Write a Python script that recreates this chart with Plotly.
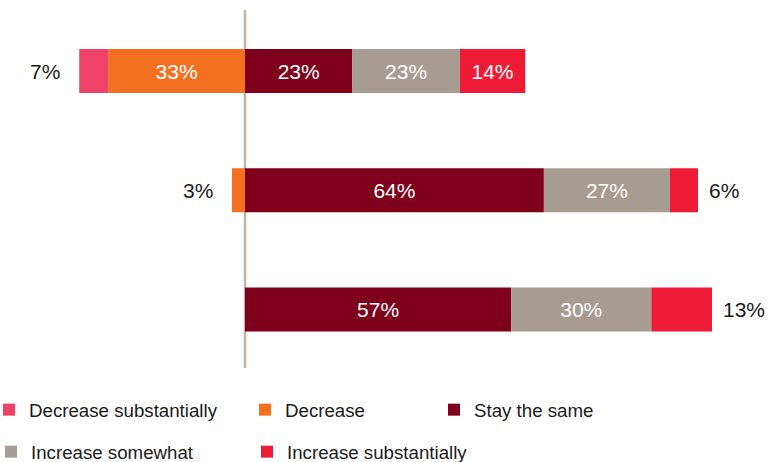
import plotly.graph_objects as go

# ---- data ----
rows = [0, 1, 2]
series_names = ["Decrease substantially", "Decrease", "Stay the same",
                "Increase somewhat", "Increase substantially"]
series_colors = ["#EF4268", "#F37021", "#7F001A", "#A79C92", "#EE1B36"]

# bar lengths (percent)
dec_sub = [6.2, 0, 0]
decrease = [29.3, 2.8, 0]
stay = [23, 64, 57]
inc_some = [23, 27, 30]
inc_sub = [14, 6, 13]

# printed labels
dec_sub_lbl = ["7%", "", ""]
decrease_lbl = ["33%", "3%", ""]
stay_lbl = ["23%", "64%", "57%"]
inc_some_lbl = ["23%", "27%", "30%"]
inc_sub_lbl = ["14%", "6%", "13%"]

# which labels sit inside the segment (others are drawn outside the bar)
dec_sub_in = [False, False, False]
decrease_in = [True, False, False]
inc_sub_in = [True, False, False]

FONT = "Liberation Sans, Arial, Helvetica, sans-serif"
W, H = 772, 462
BAR_W = 0.369

fig = go.Figure()


def inside(lbls, flags=None):
    if flags is None:
        return lbls
    return [l if f else "" for l, f in zip(lbls, flags)]


traces = [
    ("Decrease substantially", [-v for v in dec_sub], inside(dec_sub_lbl, dec_sub_in), "legend"),
    ("Decrease", [-v for v in decrease], inside(decrease_lbl, decrease_in), "legend2"),
    ("Stay the same", stay, inside(stay_lbl), "legend3"),
    ("Increase somewhat", inc_some, inside(inc_some_lbl), "legend4"),
    ("Increase substantially", inc_sub, inside(inc_sub_lbl, inc_sub_in), "legend5"),
]
# negative stacks outward in trace order: put "Decrease" first so it touches zero
order = [1, 0, 2, 3, 4]
for i in order:
    name, vals, txt, lg = traces[i]
    fig.add_trace(go.Bar(
        y=rows, x=vals, orientation="h", name=name,
        marker=dict(color=series_colors[series_names.index(name)], line=dict(width=0)),
        width=BAR_W, text=txt, textposition="inside", insidetextanchor="middle",
        textfont=dict(color="white", size=21, family=FONT),
        hoverinfo="name+x", legend=lg, showlegend=True,
    ))

annotations = []
# left outside labels
for r in rows:
    left_total = dec_sub[r] + decrease[r]
    lbl = ""
    if dec_sub_lbl[r] and not dec_sub_in[r]:
        lbl = dec_sub_lbl[r]
    elif decrease_lbl[r] and not decrease_in[r]:
        lbl = decrease_lbl[r]
    if lbl:
        annotations.append(dict(x=-left_total, y=r, xref="x", yref="y", text=lbl,
                                showarrow=False, xanchor="right", xshift=-17,
                                font=dict(size=21, color="#1a1a1a", family=FONT)))
# right outside labels
for r in rows:
    if inc_sub_lbl[r] and not inc_sub_in[r]:
        right_total = stay[r] + inc_some[r] + inc_sub[r]
        annotations.append(dict(x=right_total, y=r, xref="x", yref="y", text=inc_sub_lbl[r],
                                showarrow=False, xanchor="left", xshift=9,
                                font=dict(size=21, color="#1a1a1a", family=FONT)))

px_per_unit = 4.67
zero_px = 245
x_range = [-zero_px / px_per_unit, (W - zero_px) / px_per_unit]
row_px0, row_step = 71, 119.25
y_range = [(H - row_px0) / row_step, -row_px0 / row_step]


def legend_pos(text_px, center_py):
    return dict(x=(text_px - 40) / W, y=1 - center_py / H, xanchor="left", yanchor="middle",
                font=dict(size=18.7, color="#1a1a1a", family=FONT), bgcolor="rgba(0,0,0,0)",
                itemclick=False, itemdoubleclick=False)


fig.update_layout(
    width=W, height=H,
    margin=dict(l=0, r=0, t=0, b=0, autoexpand=False),
    paper_bgcolor="white", plot_bgcolor="white",
    barmode="relative",
    xaxis=dict(range=x_range, visible=False, fixedrange=True),
    yaxis=dict(range=y_range, visible=False, fixedrange=True),
    uniformtext=dict(minsize=21, mode="show"),
    shapes=[dict(type="line", xref="x", yref="paper", x0=0, x1=0,
                 y0=1 - 10 / H, y1=1 - 368 / H,
                 line=dict(color="#BFB4AA", width=2.5), layer="below")],
    annotations=annotations,
    legend=legend_pos(29, 410),
    legend2=legend_pos(285, 410),
    legend3=legend_pos(474, 410),
    legend4=legend_pos(31, 452),
    legend5=legend_pos(287, 452),
    font=dict(family=FONT),
)

fig.write_html("out.html",
               config={"displayModeBar": False},
               post_script="document.body.style.margin='0';document.body.style.overflow='hidden';")
